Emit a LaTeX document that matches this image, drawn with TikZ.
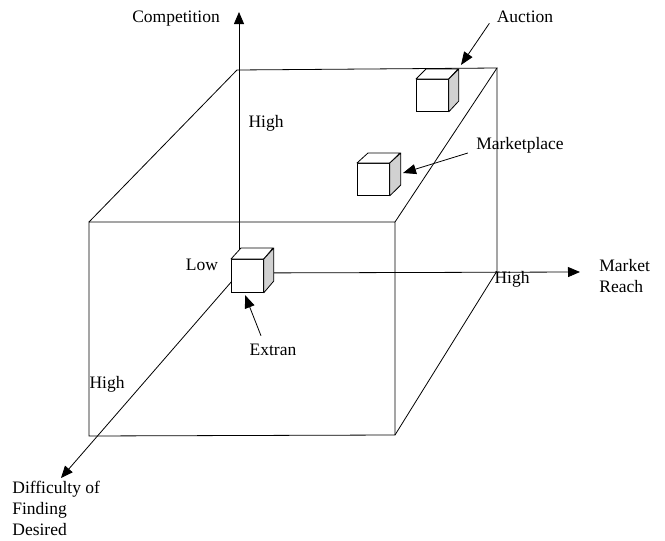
\documentclass[tikz,border=0pt]{standalone}
\usepackage{fontspec}
\setmainfont{Liberation Serif}
\usetikzlibrary{arrows.meta,calc}
\begin{document}
\begin{tikzpicture}[x=1pt,y=-1pt, line width=0.8pt,
  axisarrow/.style={-{Triangle[length=12pt,width=10pt]}},
  pointer/.style={-{Triangle[length=13pt,width=10pt]}},
  lbl/.style={font=\fontsize{17.5}{21}\selectfont, inner sep=0pt},
  frontface/.style={draw, fill=white, minimum width=32pt, minimum height=32pt, anchor=north west, inner sep=0pt},
  topface/.style={draw, fill=white, line join=round},
  sideface/.style={draw, fill=black!18, line join=round}]
\useasboundingbox (0,0) rectangle (665,541);

% big cube
\coordinate (FTL) at (89,222);
\coordinate (FTR) at (395,222);
\coordinate (FBL) at (89,436);
\coordinate (FBR) at (395,435);
\coordinate (BTL) at (237,70);
\coordinate (BTR) at (497,68);
\coordinate (BBR) at (497,271);
\draw (FTL) -- (FTR) -- (FBR) -- (FBL) -- cycle;
\draw (FTL) -- (BTL) -- (BTR) -- (FTR);
\draw (BTR) -- (BBR) -- (FBR);

% axes
\coordinate (O) at (239,273);
\coordinate (Ytip) at (239,12);
\coordinate (Xtip) at (580,272);
\coordinate (Ztip) at (61,478);
\draw[axisarrow] (O) -- (Ytip);
\draw[axisarrow] (O) -- (Xtip);
\draw[axisarrow] (O) -- (Ztip);

% small cubes
\node[frontface, minimum height=33pt] (ext) at (231,259) {};
\draw[topface] (ext.north west) -- ++(10,-11) -- ++(32,0) -- (ext.north east) -- cycle;
\draw[sideface] (ext.north east) -- ++(10,-11) -- ++(0,33) -- (ext.south east) -- cycle;

\node[frontface] (auc) at (416,79) {};
\draw[topface] (auc.north west) -- ++(10,-10) -- ++(32,0) -- (auc.north east) -- cycle;
\draw[sideface] (auc.north east) -- ++(10,-10) -- ++(0,32) -- (auc.south east) -- cycle;

\node[frontface] (mkt) at (357,163) {};
\draw[topface] (mkt.north west) -- ++(11,-10) -- ++(32,0) -- (mkt.north east) -- cycle;
\draw[sideface] (mkt.north east) -- ++(11,-10) -- ++(0,32) -- (mkt.south east) -- cycle;

% labels
\node[lbl] (comp) at (176,19) {Competition};
\node[lbl] (auct) at (525,17) {Auction};
\node[lbl] (hiC) at (266,123) {High};
\node[lbl] (mktl) at (520,145) {Marketplace};
\node[lbl] (low) at (202,265) {Low};
\node[lbl, align=left, anchor=west] (mr) at (599,276) {Market\\Reach};
\node[lbl] (hiR) at (512,279) {High};
\node[lbl] (extl) at (273,350) {Extran};
\node[lbl] (hiD) at (107,384) {High};
\node[lbl, align=left, anchor=north west] (diff) at (12,481) {Difficulty of\\Finding\\Desired};

% pointers
\coordinate (aucTip) at (461,65);
\coordinate (mktTip) at (403,173);
\coordinate (extTip) at (245,295);
\draw[pointer] ($(auct.south west)+(-7,0)$) -- (aucTip);
\draw[pointer] ($(mktl.west)+(-8,8)$) -- (mktTip);
\draw[pointer] ($(extl.north)+(-12,-8)$) -- (extTip);
\end{tikzpicture}
\end{document}
